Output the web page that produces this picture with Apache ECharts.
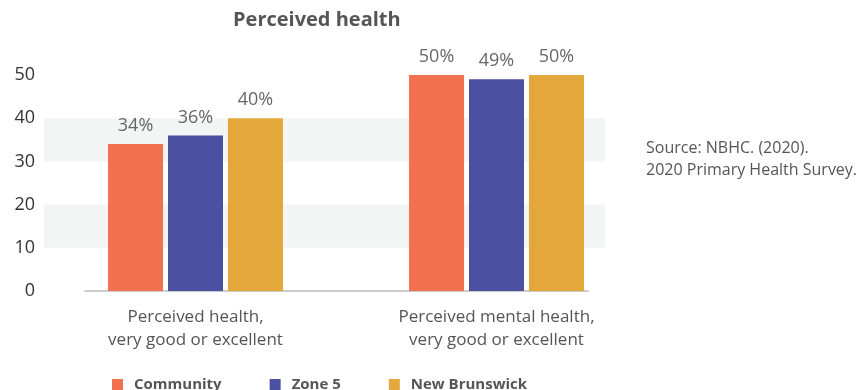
<!DOCTYPE html>
<html>
<head>
<meta charset="utf-8">
<script src="https://cdn.jsdelivr.net/npm/echarts@6/dist/echarts.min.js"></script>
<style>
  html, body { margin: 0; padding: 0; background: #fff; }
  #chart { width: 861px; height: 390px; }
</style>
</head>
<body>
<div id="chart"></div>
<script>
// Chart data
const categories = ['Perceived health,\nvery good or excellent', 'Perceived mental health,\nvery good or excellent'];
const seriesNames = ['Community', 'Zone 5', 'New Brunswick'];
const community = [34, 50];
const zone5 = [36, 49];
const newBrunswick = [40, 50];
const yTicks = [0, 10, 20, 30, 40, 50];

const colors = ['#F2714E', '#4B51A0', '#E3A73B'];
const FONT = '"Open Sans", "Noto Sans", sans-serif';

const chart = echarts.init(document.getElementById('chart'));

const barLabel = {
  show: true,
  position: 'top',
  distance: 9,
  formatter: p => p.value + '%',
  color: '#666',
  fontSize: 18,
  fontFamily: FONT
};

function barSeries(name, data, color) {
  return {
    name: name,
    type: 'bar',
    xAxisIndex: 1,
    yAxisIndex: 1,
    data: data,
    barWidth: 55,
    barGap: '9%',
    itemStyle: { color: color },
    label: barLabel
  };
}

chart.setOption({
  animation: false,
  textStyle: { fontFamily: FONT },
  title: [
    {
      text: 'Perceived health',
      left: 228, top: 5,
      textStyle: { fontSize: 20, fontWeight: 'bold', color: '#555', fontFamily: FONT }
    },
    {
      text: 'Source: NBHC. (2020).\n2020 Primary Health Survey.',
      left: 641, top: 132,
      textStyle: { fontSize: 16, fontWeight: 'normal', color: '#555', lineHeight: 22, fontFamily: FONT }
    }
  ],
  legend: {
    data: seriesNames,
    left: 107, top: 372,
    icon: 'rect',
    itemWidth: 11, itemHeight: 11,
    itemGap: 48,
    textStyle: { fontSize: 15, fontWeight: 'bold', color: '#555', fontFamily: FONT, padding: [0, 0, 0, 6] }
  },
  grid: [
    { left: 44, width: 561, top: 75, height: 216 },   // shaded value bands + y labels
    { left: 45, width: 602, top: 75, height: 216 },   // bars
    { left: 85, width: 503, top: 75, height: 216 }    // baseline
  ],
  xAxis: [
    { gridIndex: 0, type: 'value', min: 0, max: 1, show: false },
    {
      gridIndex: 1, type: 'category', data: categories,
      axisLine: { show: false }, axisTick: { show: false },
      axisLabel: { margin: 15, fontSize: 17, color: '#555', lineHeight: 23, fontFamily: FONT }
    },
    {
      gridIndex: 2, type: 'category', data: [''],
      axisLine: { show: true, lineStyle: { color: '#cccccc', width: 2 } },
      axisTick: { show: false }, axisLabel: { show: false }
    }
  ],
  yAxis: [
    {
      gridIndex: 0, type: 'value', min: yTicks[0], max: yTicks[yTicks.length - 1], interval: 10,
      axisLine: { show: false }, axisTick: { show: false },
      splitLine: { show: false },
      splitArea: { show: true, areaStyle: { color: ['rgba(0,0,0,0)', '#f3f5f5'] } },
      axisLabel: { margin: 9, fontSize: 18, color: '#333', fontFamily: FONT }
    },
    { gridIndex: 1, type: 'value', min: 0, max: 50, interval: 10, show: false },
    { gridIndex: 2, type: 'value', min: 0, max: 50, interval: 10, show: false }
  ],
  series: [
    barSeries(seriesNames[0], community, colors[0]),
    barSeries(seriesNames[1], zone5, colors[1]),
    barSeries(seriesNames[2], newBrunswick, colors[2])
  ]
});
</script>
</body>
</html>
